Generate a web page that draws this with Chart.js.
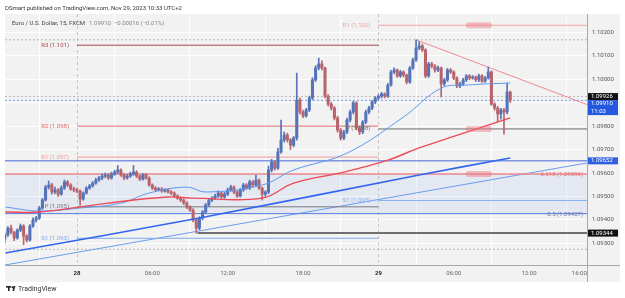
<!DOCTYPE html>
<html>
<head>
<meta charset="utf-8">
<script src="https://cdn.jsdelivr.net/npm/chart.js@4.4.0/dist/chart.umd.min.js"></script>
<style>
  html, body { margin: 0; padding: 0; background: #fff; }
  canvas { display: block; }
</style>
</head>
<body>
<canvas id="grafico" width="625" height="298"></canvas>
<script>
// ===== DADOS =====
// EUR/USD 15 min (FXCM). pontos -> preço = 1.09 + pts / 100000
// barra 0 = 27/11 18:15, eixo x em horas a partir de 28/11 00:00
const barraInicial = -23;
const aberturaInicial = 318;

const fechamentos = [
  336,365,348,323,357,374,331,314,
  374,400,408,451,485,540,549,519,528,510,536,562,549,532,528,
  523,489,515,536,545,557,570,579,587,592,579,596,604,613,592,579,587,596,604,587,574,592,579,549,536,528,532,523,528,519,
  515,502,493,485,472,455,442,400,365,408,434,464,485,493,502,515,498,510,528,540,519,502,528,549,536,562,549,570,536,510,
  519,613,647,621,690,741,762,741,719,749,911,860,843,869,920,997,1048,1065,1048,928,894,877,835,783,749,775,826,860,899,792,
  775,817,860,877,903,920,928,937,928,975,1031,1039,1014,1031,1018,988,1048,1082,1133,1142,1125,1014,1065,1056,1039,1048,980,997,1039,1031,
  1005,971,980,997,1014,1005,1009,997,1014,992,1005,1031,894,877,852,869,860,945,910
];
const maximas = [
  345,372,378,352,362,383,380,338,
  380,409,416,458,492,548,566,556,540,534,545,570,568,555,540,
  536,528,520,542,552,564,578,586,596,600,598,604,612,632,618,598,594,604,632,610,592,598,598,584,554,542,538,538,534,533,
  525,520,508,498,490,478,460,448,405,414,440,470,492,500,510,524,520,518,536,548,545,524,534,556,555,570,568,590,575,540,
  525,630,658,652,705,826,775,770,748,756,1026,920,868,876,928,1006,1058,1090,1078,1052,935,902,884,842,790,782,834,868,906,904,
  800,824,868,884,910,926,934,944,942,982,1038,1048,1044,1038,1036,1022,1054,1090,1168,1160,1150,1130,1072,1072,1062,1056,1052,1004,1046,1046,
  1036,1010,988,1004,1020,1020,1016,1014,1022,1020,1012,1052,1036,900,884,876,876,984,950
];
const minimas = [
  301,330,340,312,318,350,295,306,
  310,368,392,402,445,480,532,510,512,500,505,530,542,526,520,
  516,463,484,510,530,540,552,564,572,580,572,574,590,598,586,572,574,582,590,580,568,570,574,544,530,522,524,518,518,514,
  508,496,488,478,466,448,436,392,344,358,400,428,458,478,486,496,492,492,504,522,512,496,498,522,530,530,542,544,530,485,
  500,512,605,612,615,684,732,732,700,712,740,852,836,838,862,912,990,1040,1040,920,886,868,826,774,740,742,768,818,852,784,
  764,768,810,852,870,896,912,920,920,922,970,1024,1008,1008,1010,980,982,1042,1076,1126,1118,1006,1008,1048,1030,1032,924,972,990,1024,
  998,964,964,974,990,998,1000,990,990,985,986,1000,888,868,818,830,766,852,900
];

// médias móveis (horas, pontos)
const mmRapidaH   = [-5.7, -3, 0.25, 3.5, 5.75, 8.75, 10.25, 14.75, 17.25, 21.5, 26, 29, 31, 34.5];
const mmRapidaPts = [455, 438, 451, 472, 515, 540, 519, 549, 613, 685, 839, 962, 975, 984];
const mmMediaH    = [-5.7, -3, 2.5, 7.25, 9.25, 14.75, 17.25, 21.25, 24.75, 27.25, 34.5];
const mmMediaPts  = [434, 434, 472, 498, 493, 493, 557, 604, 655, 707, 835];
const mmLentaH    = [-5.7, 9.75, 27.25, 34.5];
const mmLentaPts  = [259, 408, 592, 664];

// pivôs diários
const pivotNomes   = ['R3 (1.101)', 'R2 (1.098)', 'R1 (1.097)', 'P (1.095)', 'S1 (1.093)', 'R1 (1.102)', 'P (1.098)', 'S1 (1.095)'];
const pivotValores = [1.10145, 1.09800, 1.09668, 1.09456, 1.09322, 1.10230, 1.09788, 1.09483];
const pivotInicio  = [0, 0, 0, 0, 0, 24, 24, 24];
const pivotFim     = [24, 24, 24, 24, 24, 40.61, 40.61, 40.61];

// fibonacci e níveis horizontais
const fibNomes   = ['0.618 (1.09596)', '0.5 (1.09427)'];
const fibValores = [1.09596, 1.09427];
const nivelAzul  = 1.09652;
const nivelMinimo = 1.09344;
const nivelMinimoInicio = 9.6;
const pontilhados = [1.10168, 1.09926, 1.09910, 1.09275];

// linhas de tendência
const trianguloH = [27.0, 40.61];
const trianguloV = [1.10168, 1.09892];
const raioH = [-5.73, 40.61];
const raioV = [1.09208, 1.09643];

// eixos
const yTicks = [1.093, 1.094, 1.095, 1.096, 1.097, 1.098, 1.099, 1.100, 1.101, 1.102];
const xTicks = [0, 6, 12, 18, 24, 30, 36, 40];
const xRotulos = ['28', '06:00', '12:00', '18:00', '29', '06:00', '12:00', '16:00'];
const diasSep = [0, 24];

const X_MIN = -5.73, X_MAX = 40.61;
const Y_MIN = 1.09208, Y_MAX = 1.10278;

// ===== PREPARO =====
const P = v => 1.09 + v / 100000;
const aberturas = [aberturaInicial, ...fechamentos.slice(0, -1)];
const horaBarra = i => (barraInicial + i) / 4;

const CORES = { alta: '#5673b8', baixa: '#b8646d' };
const corBarra = i => fechamentos[i] >= aberturas[i] ? CORES.alta : CORES.baixa;

const pavios = fechamentos.map((_, i) => ({ x: horaBarra(i), y: [P(minimas[i]), P(maximas[i])] }));
const corpos = fechamentos.map((c, i) => ({ x: horaBarra(i), y: [P(aberturas[i]), P(c)] }));

const serie = (hs, vs) => hs.map((h, i) => ({ x: h, y: P(vs[i]) }));
const seg = (x0, x1, v) => [{ x: x0, y: v }, { x: x1, y: v }];

const linha = (data, cor, w, extra) => Object.assign({
  type: 'line', data, borderColor: cor, borderWidth: w,
  pointRadius: 0, fill: false, tension: 0, order: 3
}, extra || {});

const pivotCores = ['#a9474f', '#e06a6a', '#f09a9a', '#7a7a7a', '#7fa9ef', '#f3a3a3', '#6e6e6e', '#86b2f3'];

const datasets = [];

// horizontais
pontilhados.forEach((v, i) => datasets.push(linha(seg(X_MIN, X_MAX, v),
  i === 2 ? '#7a9ef0' : '#b9b9b9', 1, { borderDash: [2, 2], order: 4 })));
pivotValores.forEach((v, i) => datasets.push(linha(seg(pivotInicio[i], pivotFim[i], v), pivotCores[i], 1)));
datasets.push(linha(seg(X_MIN, X_MAX, nivelAzul), '#4267d6', 1));
datasets.push(linha(seg(X_MIN, X_MAX, fibValores[0]), '#e8858b', 1.5));
datasets.push(linha(seg(X_MIN, X_MAX, fibValores[1]), '#5a7be0', 1));
datasets.push(linha(seg(nivelMinimoInicio, X_MAX, nivelMinimo), '#6f6f6f', 2));

// tendências
datasets.push(linha(serie(raioH, raioV.map(v => (v - 1.09) * 100000)), '#6b9cf2', 1));
datasets.push(linha(serie(trianguloH, trianguloV.map(v => (v - 1.09) * 100000)), '#f08a92', 1));

// candles
datasets.push({
  type: 'bar', data: pavios, barThickness: 1, grouped: false, order: 2,
  backgroundColor: ctx => corBarra(ctx.dataIndex)
});
datasets.push({
  type: 'bar', data: corpos, barThickness: 2.4, grouped: false, order: 2, minBarLength: 1,
  backgroundColor: ctx => corBarra(ctx.dataIndex)
});

// médias por cima
datasets.push(linha(serie(mmLentaH, mmLentaPts), '#3366ee', 1.6, { tension: 0.3, order: 1 }));
datasets.push(linha(serie(mmMediaH, mmMediaPts), '#ef4a57', 1.4, { tension: 0.4, order: 1 }));
datasets.push(linha(serie(mmRapidaH, mmRapidaPts), '#5e9af2', 1, { tension: 0.4, order: 1 }));

// ===== PLUGINS =====
const FONTE = '6px Roboto, "Liberation Sans", sans-serif';

const fundoPlugin = {
  id: 'fundo',
  beforeDraw(ch) {
    const c = ch.ctx;
    c.save();
    c.fillStyle = '#ffffff';
    c.fillRect(0, 0, ch.width, ch.height);
    c.fillStyle = '#f2f2f2';
    c.fillRect(5, 14, 615, 268);
    c.restore();
  },
  beforeDatasetsDraw(ch) {
    const c = ch.ctx, x = ch.scales.x, y = ch.scales.y, a = ch.chartArea;
    c.save();
    const y1 = y.getPixelForValue(fibValores[0]);
    const y2 = y.getPixelForValue(fibValores[1]);
    c.fillStyle = 'rgba(90,130,230,0.09)';
    c.fillRect(a.left, y1, a.right - a.left, y2 - y1);

    c.strokeStyle = '#c4c4c4';
    c.lineWidth = 1;
    c.setLineDash([3, 3]);
    diasSep.forEach(h => {
      const px = Math.round(x.getPixelForValue(h)) + 0.5;
      c.beginPath(); c.moveTo(px, a.top); c.lineTo(px, a.bottom); c.stroke();
    });
    c.restore();
  },
  afterDatasetsDraw(ch) {
    const c = ch.ctx, x = ch.scales.x, y = ch.scales.y;
    c.save();
    // marcadores rosados
    c.fillStyle = 'rgba(240,120,130,0.45)';
    [pivotValores[5], pivotValores[6], fibValores[0]].forEach(v => {
      const x0 = x.getPixelForValue(30.97), x1 = x.getPixelForValue(33.04);
      const py = y.getPixelForValue(v);
      c.beginPath();
      c.roundRect(x0, py - 3, x1 - x0, 6, 2);
      c.fill();
    });

    c.font = FONTE;
    c.textBaseline = 'middle';
    c.textAlign = 'right';
    pivotNomes.forEach((t, i) => {
      c.fillStyle = pivotCores[i];
      const px = x.getPixelForValue(pivotInicio[i]) - 8;
      c.fillText(t, px, y.getPixelForValue(pivotValores[i]));
    });
    c.fillStyle = '#e07078';
    c.fillText(fibNomes[0], 583, y.getPixelForValue(fibValores[0]) + 1);
    c.fillStyle = '#6a74a8';
    c.fillText(fibNomes[1], 583, y.getPixelForValue(fibValores[1]) + 1);
    c.restore();
  },
  afterDraw(ch) {
    const c = ch.ctx, x = ch.scales.x, y = ch.scales.y, a = ch.chartArea;
    c.save();
    // bordas dos eixos
    c.strokeStyle = '#a9a9a9';
    c.lineWidth = 1;
    c.beginPath();
    c.moveTo(Math.round(a.right) + 0.5, 14); c.lineTo(Math.round(a.right) + 0.5, 282);
    c.moveTo(5, Math.round(a.bottom) + 0.5); c.lineTo(620, Math.round(a.bottom) + 0.5);
    c.stroke();

    c.font = FONTE;
    c.textBaseline = 'middle';
    c.textAlign = 'left';
    c.fillStyle = '#555';
    yTicks.forEach(v => c.fillText(v.toFixed(5), a.right + 5, y.getPixelForValue(v)));

    c.textAlign = 'center';
    xTicks.forEach((h, i) => {
      c.fillStyle = (i === 0 || i === 4) ? '#222' : '#666';
      c.font = (i === 0 || i === 4) ? 'bold ' + FONTE : FONTE;
      c.fillText(xRotulos[i], x.getPixelForValue(h), 273);
    });

    // caixas de preço
    const caixa = (v, cor, txt, h, txt2) => {
      const py = y.getPixelForValue(v);
      c.fillStyle = cor;
      c.fillRect(a.right + 1, py - 3.5, 30, h);
      c.fillStyle = '#fff';
      c.font = FONTE;
      c.textAlign = 'left';
      c.fillText(txt, a.right + 4, py);
      if (txt2) c.fillText(txt2, a.right + 4, py + 8);
    };
    caixa(pontilhados[1], '#111', '1.09926', 7);
    caixa(pontilhados[2] - 0.00014, '#2458e0', '1.09910', 15, '11:03');
    caixa(nivelAzul, '#2f5fe0', '1.09652', 7);
    caixa(nivelMinimo, '#111', '1.09344', 7);

    // cabeçalho
    c.textAlign = 'left';
    c.font = FONTE;
    c.fillStyle = '#333';
    c.fillText('DSmart published on TradingView.com, Nov 29, 2023 10:33 UTC+2', 5, 8);
    c.fillStyle = '#444';
    const leg = 'Euro / U.S. Dollar, 15, FXCM';
    c.fillText(leg, 12, 23);
    const w = c.measureText(leg).width;
    c.fillStyle = '#888';
    c.fillText('1.09910  \u22120.00016 (\u22120.01%)', 12 + w + 4, 23);

    // logo
    c.fillStyle = '#222';
    c.fillRect(6, 286, 5, 1.6);
    c.fillRect(8, 286, 1.6, 5);
    c.beginPath(); c.arc(12.5, 287.3, 1, 0, Math.PI * 2); c.fill();
    c.beginPath(); c.moveTo(13.5, 286); c.lineTo(15.5, 286); c.lineTo(14, 291); c.lineTo(12.5, 291); c.fill();
    c.font = '7px Roboto, sans-serif';
    c.fillStyle = '#333';
    c.fillText('TradingView', 18, 289);
    c.restore();
  }
};

// ===== GRÁFICO =====
new Chart(document.getElementById('grafico'), {
  type: 'bar',
  data: { datasets },
  options: {
    responsive: false,
    animation: false,
    events: [],
    layout: { padding: { left: 5, top: 14, right: 38, bottom: 33 } },
    plugins: { legend: { display: false }, tooltip: { enabled: false } },
    scales: {
      x: {
        type: 'linear', min: X_MIN, max: X_MAX, offset: false,
        afterBuildTicks: s => { s.ticks = xTicks.slice(0, 7).map(v => ({ value: v })); },
        afterFit: s => { s.height = 0; },
        ticks: { display: false },
        border: { display: false },
        grid: { color: 'rgba(255,255,255,0.9)', drawTicks: false }
      },
      y: {
        type: 'linear', min: Y_MIN, max: Y_MAX,
        afterBuildTicks: s => { s.ticks = yTicks.map(v => ({ value: v })); },
        afterFit: s => { s.width = 0; },
        ticks: { display: false },
        border: { display: false },
        grid: { color: 'rgba(255,255,255,0.9)', drawTicks: false }
      }
    }
  },
  plugins: [fundoPlugin]
});
</script>
</body>
</html>
